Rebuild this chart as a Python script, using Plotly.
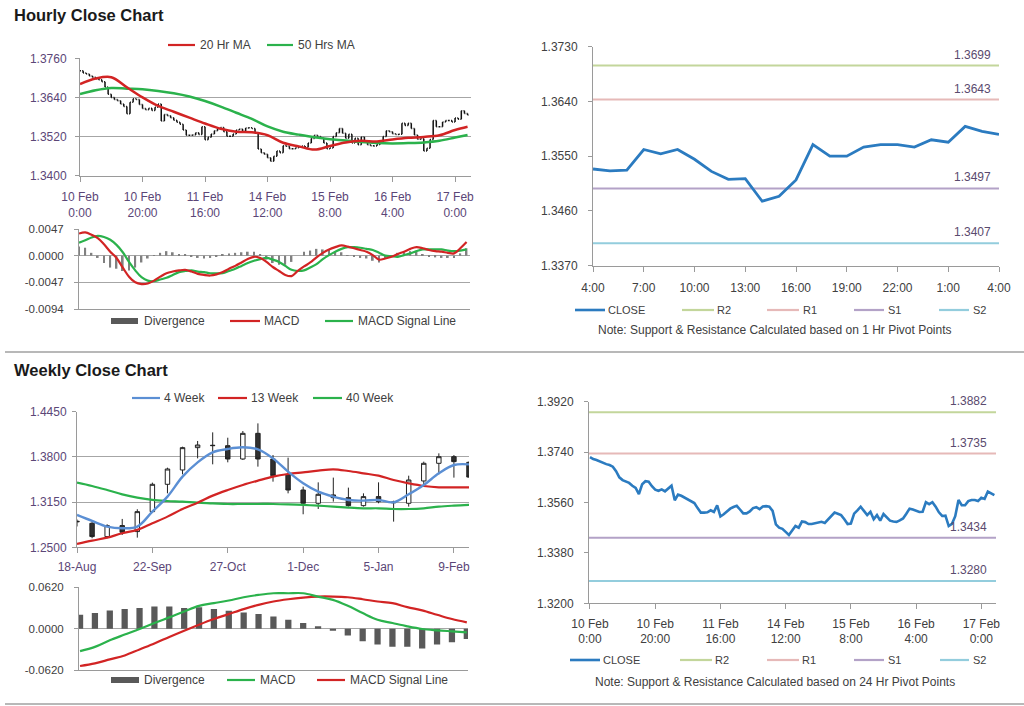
import plotly.graph_objects as go

W, H = 1024, 706

# ---------------- DATA ----------------
# Hourly closes, 10 Feb 0:00 .. 17 Feb 4:00 (trading hours)
hourly_close = [
    1.3722, 1.3715, 1.3712, 1.3706, 1.3702, 1.3697, 1.3694, 1.3688, 1.3672, 1.3650,
    1.3640, 1.3634, 1.3630, 1.3620, 1.3612, 1.3590, 1.3625, 1.3636, 1.3634, 1.3618,
    1.3606, 1.3602, 1.3607, 1.3600, 1.3610, 1.3620, 1.3568, 1.3588, 1.3584, 1.3578,
    1.3570, 1.3564, 1.3558, 1.3540, 1.3524, 1.3524, 1.3525, 1.3532, 1.3526, 1.3550,
    1.3510, 1.3518, 1.3528, 1.3538, 1.3544, 1.3548, 1.3535, 1.3521, 1.3521, 1.3528,
    1.3540, 1.3543, 1.3536, 1.3546, 1.3547, 1.3545, 1.3530, 1.3482, 1.3470, 1.3466,
    1.3455, 1.3444, 1.3460, 1.3476, 1.3470, 1.3492, 1.3490, 1.3483, 1.3483, 1.3486,
    1.3488, 1.3491, 1.3487, 1.3500, 1.3514, 1.3524, 1.3520, 1.3515, 1.3500, 1.3483,
    1.3485, 1.3520, 1.3532, 1.3545, 1.3530, 1.3515, 1.3527, 1.3500, 1.3515, 1.3495,
    1.3519, 1.3505, 1.3495, 1.3492, 1.3491, 1.3496, 1.3503, 1.3520, 1.3538, 1.3535,
    1.3529, 1.3526, 1.3527, 1.3561, 1.3554, 1.3561, 1.3545, 1.3525, 1.3512, 1.3513,
    1.3476, 1.3484, 1.3511, 1.3569, 1.3550, 1.3550, 1.3565, 1.3569, 1.3569, 1.3565,
    1.3577, 1.3573, 1.3599, 1.3591, 1.3586,
]
hour_tickpos = [0, 20, 40, 60, 80, 100, 120]
hour_ticktext = ["10 Feb<br>0:00", "10 Feb<br>20:00", "11 Feb<br>16:00", "14 Feb<br>12:00",
                 "15 Feb<br>8:00", "16 Feb<br>4:00", "17 Feb<br>0:00"]

ma_idx = [0, 5, 10, 15, 20, 25, 30, 35, 40, 45, 50, 55, 60, 65, 70, 75, 80, 85, 90, 95,
          100, 105, 110, 115, 120, 124]
ma20 = [1.3681, 1.3698, 1.3702, 1.3671, 1.3640, 1.3614, 1.3596, 1.3578, 1.3560, 1.3544,
        1.3535, 1.3533, 1.3524, 1.3501, 1.3490, 1.3480, 1.3491, 1.3502, 1.3507, 1.3505,
        1.3511, 1.3516, 1.3519, 1.3524, 1.3540, 1.3550]
ma50 = [1.3650, 1.3662, 1.3669, 1.3667, 1.3665, 1.3660, 1.3653, 1.3643, 1.3629, 1.3612,
        1.3593, 1.3574, 1.3551, 1.3535, 1.3526, 1.3518, 1.3512, 1.3508, 1.3503, 1.3500,
        1.3499, 1.3500, 1.3502, 1.3507, 1.3517, 1.3525]

macd_idx = [0, 2, 4, 6, 8, 10, 12, 14, 16, 18, 20, 22, 24, 26, 28, 30, 32, 34, 36, 38,
            40, 42, 44, 46, 48, 50, 52, 54, 56, 58, 60, 62, 64, 66, 68, 70, 72, 74, 76, 78,
            80, 82, 84, 86, 88, 90, 92, 94, 96, 98, 100, 102, 104, 106, 108, 110, 112, 114,
            116, 118, 120, 122, 124]
macd_h = [0.0039, 0.0041, 0.0037, 0.0031, 0.0020, 0.0007, -0.0004, -0.0021, -0.0037, -0.0047,
          -0.0050, -0.0049, -0.0044, -0.0037, -0.0031, -0.0028, -0.0026, -0.0025, -0.0028, -0.0032,
          -0.0034, -0.0035, -0.0033, -0.0029, -0.0023, -0.0018, -0.0012, -0.0006, -0.0002, -0.0004,
          -0.0011, -0.0020, -0.0027, -0.0034, -0.0036, -0.0027, -0.0019, -0.0012, -0.0003, 0.0005,
          0.0011, 0.0015, 0.0018, 0.0016, 0.0013, 0.0010, 0.0007, 0.0001, -0.0007, -0.0005,
          -0.0002, 0.0003, 0.0007, 0.0012, 0.0015, 0.0013, 0.0010, 0.0008, 0.0007, 0.0005,
          0.0004, 0.0013, 0.0024]
signal_h = [0.0023, 0.0027, 0.0032, 0.0035, 0.0033, 0.0028, 0.0019, 0.0006, -0.0011, -0.0026,
            -0.0038, -0.0044, -0.0045, -0.0042, -0.0039, -0.0034, -0.0029, -0.0027, -0.0026, -0.0028,
            -0.0029, -0.0031, -0.0031, -0.0031, -0.0027, -0.0023, -0.0018, -0.0013, -0.0009, -0.0006,
            -0.0004, -0.0007, -0.0011, -0.0018, -0.0025, -0.0027, -0.0026, -0.0021, -0.0015, -0.0006,
            0.0001, 0.0007, 0.0012, 0.0015, 0.0015, 0.0014, 0.0012, 0.0010, 0.0005, 0.0000,
            -0.0001, -0.0002, 0.0001, 0.0004, 0.0008, 0.0011, 0.0011, 0.0011, 0.0011, 0.0009,
            0.0008, 0.0009, 0.0011]
div_h = [0.0016, 0.0014, 0.0005, -0.0004, -0.0013, -0.0021, -0.0023, -0.0027, -0.0026, -0.0021,
         -0.0012, -0.0005, 0.0001, 0.0005, 0.0008, 0.0006, 0.0003, 0.0002, -0.0002, -0.0004,
         -0.0005, -0.0004, -0.0002, 0.0002, 0.0004, 0.0005, 0.0006, 0.0007, 0.0007, 0.0002,
         -0.0007, -0.0013, -0.0016, -0.0016, -0.0011, 0.0000, 0.0007, 0.0009, 0.0012, 0.0011,
         0.0010, 0.0008, 0.0006, 0.0001, -0.0002, -0.0004, -0.0005, -0.0009, -0.0012, -0.0005,
         -0.0001, 0.0005, 0.0006, 0.0008, 0.0007, 0.0002, -0.0001, -0.0003, -0.0004, -0.0004,
         -0.0004, 0.0004, 0.0013]

# Last 24 hours (1 Hr pivot panel)
last24_start = 100
last24_tickpos = [0, 3, 6, 9, 12, 15, 18, 21, 24]
last24_ticktext = ["4:00", "7:00", "10:00", "13:00", "16:00", "19:00", "22:00", "1:00", "4:00"]
pivot1h_names = ["R2", "R1", "S1", "S2"]
pivot1h_values = [1.3699, 1.3643, 1.3497, 1.3407]

# Weekly
weeks = ["18-Aug", "25-Aug", "1-Sep", "8-Sep", "15-Sep", "22-Sep", "29-Sep", "6-Oct", "13-Oct",
         "20-Oct", "27-Oct", "3-Nov", "10-Nov", "17-Nov", "24-Nov", "1-Dec", "8-Dec", "15-Dec",
         "22-Dec", "29-Dec", "5-Jan", "12-Jan", "19-Jan", "26-Jan", "2-Feb", "9-Feb", "16-Feb"]
week_ticks = ["18-Aug", "22-Sep", "27-Oct", "1-Dec", "5-Jan", "9-Feb"]
w_open = [1.2875, 1.2845, 1.2654, 1.2812, 1.2726, 1.3013, 1.3406, 1.3612, 1.3933, 1.3961,
          1.3961, 1.3770, 1.4139, 1.3770, 1.3549, 1.3324, 1.3133, 1.3253, 1.3214, 1.3099,
          1.3229, 1.3140, 1.3133, 1.3454, 1.3708, 1.3803, 1.3722]
w_high = [1.2900, 1.2869, 1.2831, 1.2908, 1.3047, 1.3430, 1.3645, 1.3947, 1.4029, 1.4153,
          1.4076, 1.4172, 1.4282, 1.3827, 1.3789, 1.3372, 1.3434, 1.3502, 1.3358, 1.3276,
          1.3434, 1.3170, 1.3530, 1.3732, 1.3851, 1.3827, 1.3735]
w_low = [1.2800, 1.2630, 1.2630, 1.2678, 1.2639, 1.3003, 1.3276, 1.3549, 1.3779, 1.3693,
         1.3722, 1.3756, 1.3660, 1.3444, 1.3276, 1.2975, 1.3051, 1.3157, 1.3085, 1.3085,
         1.3133, 1.2869, 1.3085, 1.3396, 1.3549, 1.3502, 1.3500]
w_close = [1.2868, 1.2654, 1.2812, 1.2716, 1.3013, 1.3406, 1.3626, 1.3933, 1.3971, 1.3966,
           1.3770, 1.4139, 1.3770, 1.3530, 1.3324, 1.3133, 1.3262, 1.3214, 1.3099, 1.3229,
           1.3157, 1.3150, 1.3468, 1.3708, 1.3803, 1.3732, 1.3510]
wma4 = [1.2965, 1.2879, 1.2798, 1.2774, 1.2798, 1.3013, 1.3229, 1.3516, 1.3722, 1.3866,
        1.3914, 1.3938, 1.3909, 1.3779, 1.3588, 1.3420, 1.3300, 1.3229, 1.3181, 1.3171,
        1.3181, 1.3147, 1.3262, 1.3396, 1.3564, 1.3684, 1.3693]
wma13 = [1.2548, 1.2596, 1.2639, 1.2702, 1.2750, 1.2845, 1.2941, 1.3051, 1.3142, 1.3243,
         1.3324, 1.3396, 1.3458, 1.3516, 1.3554, 1.3578, 1.3602, 1.3621, 1.3597, 1.3564,
         1.3530, 1.3468, 1.3420, 1.3382, 1.3363, 1.3363, 1.3363]
wma40 = [1.3430, 1.3382, 1.3324, 1.3262, 1.3214, 1.3181, 1.3166, 1.3157, 1.3142, 1.3133,
         1.3123, 1.3123, 1.3123, 1.3123, 1.3118, 1.3109, 1.3099, 1.3085, 1.3071, 1.3061,
         1.3061, 1.3051, 1.3051, 1.3061, 1.3085, 1.3099, 1.3109]
w_macd = [-0.0337, -0.0273, -0.0174, -0.0089, -0.0005, 0.0084, 0.0169, 0.0258, 0.0342, 0.0382,
          0.0422, 0.0471, 0.0506, 0.0531, 0.0531, 0.0531, 0.0481, 0.0432, 0.0342, 0.0233,
          0.0134, 0.0084, 0.0035, -0.0005, -0.0025, -0.0040, -0.0055]
w_signal = [-0.0560, -0.0521, -0.0461, -0.0402, -0.0312, -0.0223, -0.0124, -0.0030, 0.0060, 0.0144,
            0.0218, 0.0293, 0.0357, 0.0407, 0.0441, 0.0466, 0.0481, 0.0481, 0.0471, 0.0441,
            0.0407, 0.0382, 0.0322, 0.0273, 0.0208, 0.0144, 0.0094]
w_div = [0.0208, 0.0233, 0.0273, 0.0293, 0.0308, 0.0332, 0.0332, 0.0308, 0.0322, 0.0293,
         0.0268, 0.0243, 0.0218, 0.0184, 0.0134, 0.0084, 0.0035, -0.0030, -0.0104, -0.0188,
         -0.0238, -0.0273, -0.0273, -0.0298, -0.0238, -0.0203, -0.0154]

pivot24_names = ["R2", "R1", "S1", "S2"]
pivot24_values = [1.3882, 1.3735, 1.3434, 1.3280]

# ---------------- STYLE ----------------
FONT = "Liberation Sans, Arial, sans-serif"
PURPLE = "#5b4677"
DARK = "#404040"
GRID = "#a6a6a6"
AXIS = "#9a9a9a"
RED = "#d22424"
GREEN = "#2bb24c"
BLUE_W = "#5b8fd4"
CLOSE_BLUE = "#2b7bc0"
PIV_COL = {"R2": "#c3d69b", "R1": "#e6b9b8", "S1": "#b3a2c7", "S2": "#93cddd"}


def fx(p):
    return p / W


def fy(p):
    return 1 - p / H


def dom_x(a, b):
    return [fx(a), fx(b)]


def dom_y(top, bot):
    return [fy(bot), fy(top)]


fig = go.Figure()

# Panel 1: hourly OHLC + MAs
hx = list(range(len(hourly_close)))
hourly_open = [hourly_close[0]] + hourly_close[:-1]
hourly_high = [max(o, c) for o, c in zip(hourly_open, hourly_close)]
hourly_low = [min(o, c) for o, c in zip(hourly_open, hourly_close)]
fig.add_trace(go.Ohlc(x=hx, open=hourly_open, high=hourly_high, low=hourly_low, close=hourly_close,
                      increasing=dict(line=dict(color="#111111", width=1.5)),
                      decreasing=dict(line=dict(color="#111111", width=1.5)),
                      tickwidth=0.3, xaxis="x", yaxis="y", showlegend=False, hoverinfo="skip"))
fig.add_trace(go.Scatter(x=ma_idx, y=ma50, mode="lines", line=dict(color=GREEN, width=2.5, shape="spline"),
                         xaxis="x", yaxis="y", showlegend=False))
fig.add_trace(go.Scatter(x=ma_idx, y=ma20, mode="lines", line=dict(color=RED, width=2.5, shape="spline"),
                         xaxis="x", yaxis="y", showlegend=False))

# Panel 2: hourly MACD
fig.add_trace(go.Bar(x=macd_idx, y=div_h, width=0.55, marker=dict(color="#808080", line=dict(width=0)),
                     xaxis="x2", yaxis="y2", showlegend=False))
fig.add_trace(go.Scatter(x=macd_idx, y=signal_h, mode="lines", line=dict(color=GREEN, width=2.2, shape="spline"),
                         xaxis="x2", yaxis="y2", showlegend=False))
fig.add_trace(go.Scatter(x=macd_idx, y=macd_h, mode="lines", line=dict(color=RED, width=2.2, shape="spline"),
                         xaxis="x2", yaxis="y2", showlegend=False))

# Panel 3: last 24 hours with 1 Hr pivots
l24 = hourly_close[last24_start:]
fig.add_trace(go.Scatter(x=list(range(len(l24))), y=l24, mode="lines", line=dict(color=CLOSE_BLUE, width=2.8),
                         xaxis="x3", yaxis="y3", showlegend=False))

# Panel 4: weekly candles + MAs
fig.add_trace(go.Candlestick(x=weeks, open=w_open, high=w_high, low=w_low, close=w_close,
                             increasing=dict(line=dict(color="#222222", width=1), fillcolor="#ffffff"),
                             decreasing=dict(line=dict(color="#222222", width=1), fillcolor="#303030"),
                             whiskerwidth=0, xaxis="x4", yaxis="y4", showlegend=False, hoverinfo="skip"))
fig.add_trace(go.Scatter(x=weeks, y=wma40, mode="lines", line=dict(color=GREEN, width=2.2, shape="spline"),
                         xaxis="x4", yaxis="y4", showlegend=False))
fig.add_trace(go.Scatter(x=weeks, y=wma13, mode="lines", line=dict(color=RED, width=2.2, shape="spline"),
                         xaxis="x4", yaxis="y4", showlegend=False))
fig.add_trace(go.Scatter(x=weeks, y=wma4, mode="lines", line=dict(color=BLUE_W, width=2.4, shape="spline"),
                         xaxis="x4", yaxis="y4", showlegend=False))

# Panel 5: weekly MACD
fig.add_trace(go.Bar(x=weeks, y=w_div, width=0.42, marker=dict(color="#595959", line=dict(width=0)),
                     xaxis="x5", yaxis="y5", showlegend=False))
fig.add_trace(go.Scatter(x=weeks, y=w_signal, mode="lines", line=dict(color=RED, width=2.2, shape="spline"),
                         xaxis="x5", yaxis="y5", showlegend=False))
fig.add_trace(go.Scatter(x=weeks, y=w_macd, mode="lines", line=dict(color=GREEN, width=2.2, shape="spline"),
                         xaxis="x5", yaxis="y5", showlegend=False))

# Panel 6: hourly close with 24 Hr pivots
fig.add_trace(go.Scatter(x=hx, y=hourly_close, mode="lines", line=dict(color=CLOSE_BLUE, width=2.6),
                         xaxis="x6", yaxis="y6", showlegend=False))

shapes = []
annotations = []

# pivot lines + labels
for xr, yr, names, vals, lx in (("x3", "y3", pivot1h_names, pivot1h_values, 0.985),
                                ("x6", "y6", pivot24_names, pivot24_values, 0.983)):
    for n, v in zip(names, vals):
        shapes.append(dict(type="line", xref=xr + " domain", yref=yr, x0=0, x1=1, y0=v, y1=v,
                           line=dict(color=PIV_COL[n], width=2), layer="below"))
        annotations.append(dict(xref=xr + " domain", yref=yr, x=lx, y=v, text="%.4f" % v,
                                xanchor="right", yanchor="bottom", yshift=2, showarrow=False,
                                font=dict(size=12, color="#5a4a6e")))


def leg_line(x0, x1, y, color, text, tx, width=2.2, size=12):
    shapes.append(dict(type="line", xref="paper", yref="paper", x0=fx(x0), x1=fx(x1), y0=fy(y), y1=fy(y),
                       line=dict(color=color, width=width)))
    annotations.append(dict(xref="paper", yref="paper", x=fx(tx), y=fy(y), text=text, xanchor="left",
                            yanchor="middle", showarrow=False, font=dict(size=size, color=DARK)))


def leg_bar(x0, x1, y, text, tx, color="#595959"):
    shapes.append(dict(type="rect", xref="paper", yref="paper", x0=fx(x0), x1=fx(x1), y0=fy(y + 3),
                       y1=fy(y - 3), fillcolor=color, line=dict(width=0)))
    annotations.append(dict(xref="paper", yref="paper", x=fx(tx), y=fy(y), text=text, xanchor="left",
                            yanchor="middle", showarrow=False, font=dict(size=12, color=DARK)))


# legends
leg_line(168, 195, 45, RED, "20 Hr MA", 198)
leg_line(267, 293, 45, GREEN, "50 Hrs MA", 296)

leg_bar(111, 138, 321, "Divergence", 142)
leg_line(230, 260, 321, RED, "MACD", 262)
leg_line(325, 353, 321, GREEN, "MACD Signal Line", 356)

leg_line(575, 605, 310, CLOSE_BLUE, "CLOSE", 606, width=2.6, size=11)
leg_line(682, 714, 310, PIV_COL["R2"], "R2", 715, size=11)
leg_line(767, 799, 310, PIV_COL["R1"], "R1", 801, size=11)
leg_line(854, 884, 310, PIV_COL["S1"], "S1", 886, size=11)
leg_line(939, 969, 310, PIV_COL["S2"], "S2", 971, size=11)

leg_line(132, 160, 398, BLUE_W, "4 Week", 162)
leg_line(218, 247, 398, RED, "13 Week", 249)
leg_line(313, 342, 398, GREEN, "40 Week", 344)

leg_bar(111, 139, 680, "Divergence", 142)
leg_line(227, 255, 680, GREEN, "MACD", 258)
leg_line(317, 345, 680, RED, "MACD Signal Line", 348)

leg_line(570, 600, 660, CLOSE_BLUE, "CLOSE", 601, width=2.6, size=11)
leg_line(680, 712, 660, PIV_COL["R2"], "R2", 713, size=11)
leg_line(767, 799, 660, PIV_COL["R1"], "R1", 800, size=11)
leg_line(854, 884, 660, PIV_COL["S1"], "S1", 886, size=11)
leg_line(940, 969, 660, PIV_COL["S2"], "S2", 971, size=11)

# notes
annotations.append(dict(xref="paper", yref="paper", x=fx(775), y=fy(330), showarrow=False,
                        text="Note: Support & Resistance Calculated based on 1 Hr Pivot Points",
                        xanchor="center", yanchor="middle", font=dict(size=12, color=DARK)))
annotations.append(dict(xref="paper", yref="paper", x=fx(775), y=fy(682), showarrow=False,
                        text="Note: Support & Resistance Calculated based on 24 Hr Pivot Points",
                        xanchor="center", yanchor="middle", font=dict(size=12, color=DARK)))

# titles
annotations.append(dict(xref="paper", yref="paper", x=fx(12), y=fy(15), showarrow=False,
                        text="<b>Hourly Close Chart</b>", xanchor="left", yanchor="middle",
                        font=dict(size=16.5, color="#1a1a1a")))
annotations.append(dict(xref="paper", yref="paper", x=fx(12), y=fy(370), showarrow=False,
                        text="<b>Weekly Close Chart</b>", xanchor="left", yanchor="middle",
                        font=dict(size=16.5, color="#1a1a1a")))

# separators
shapes.append(dict(type="line", xref="paper", yref="paper", x0=fx(5), x1=1, y0=fy(352), y1=fy(352),
                   line=dict(color="#a0a0a0", width=1.5)))
shapes.append(dict(type="line", xref="paper", yref="paper", x0=fx(5), x1=1, y0=fy(704), y1=fy(704),
                   line=dict(color="#a0a0a0", width=1.5)))

common_x = dict(showline=True, linecolor=AXIS, linewidth=1, zeroline=False, showgrid=False,
                ticks="outside", ticklen=5, tickcolor=AXIS, automargin=False)
common_y = dict(showline=True, linecolor=AXIS, linewidth=1, zeroline=False, ticks="outside",
                ticklen=4, tickcolor=AXIS, gridcolor=GRID, gridwidth=1, automargin=False)

fig.update_layout(
    width=W, height=H, autosize=False,
    margin=dict(l=0, r=0, t=0, b=0, pad=0, autoexpand=False),
    paper_bgcolor="white", plot_bgcolor="white",
    font=dict(family=FONT, size=12, color=DARK),
    hovermode=False, showlegend=False, boxgap=0.58,
    shapes=shapes, annotations=annotations,
    xaxis=dict(common_x, domain=dom_x(80, 471), anchor="y", range=[0, 125.1],
               tickvals=hour_tickpos, ticktext=hour_ticktext, tickfont=dict(size=12, color=PURPLE),
               rangeslider=dict(visible=False), ticklabelstandoff=5),
    yaxis=dict(common_y, domain=dom_y(58.3, 175.7), anchor="x", range=[1.34, 1.376],
               tickvals=[1.34, 1.352, 1.364, 1.376], tickformat=".4f", showgrid=True,
               tickfont=dict(size=12, color=PURPLE), ticklabelstandoff=6),
    xaxis2=dict(common_x, domain=dom_x(79, 470), anchor="y2", range=[0, 125.1],
                showticklabels=False, ticks=""),
    yaxis2=dict(common_y, domain=dom_y(229, 309), anchor="x2", range=[-0.0094, 0.0047],
                tickvals=[-0.0094, -0.0047, 0, 0.0047], ticktext=["-0.0094", "-0.0047", "0.0000", "0.0047"],
                showgrid=True, tickfont=dict(size=11.5, color=DARK), ticklabelstandoff=8),
    xaxis3=dict(common_x, domain=dom_x(593, 999), anchor="y3", range=[0, 24],
                tickvals=last24_tickpos, ticktext=last24_ticktext, tickfont=dict(size=12, color=DARK),
                ticklabelstandoff=6),
    yaxis3=dict(common_y, domain=dom_y(46.7, 265.7), anchor="x3", range=[1.337, 1.373],
                tickvals=[1.337, 1.346, 1.355, 1.364, 1.373], tickformat=".4f", showgrid=False,
                tickfont=dict(size=12, color=DARK), ticklabelstandoff=8),
    xaxis4=dict(common_x, domain=dom_x(77, 469), anchor="y4", type="category", range=[0, 26],
                tickvals=week_ticks, ticktext=week_ticks, tickfont=dict(size=12, color=PURPLE),
                rangeslider=dict(visible=False), ticklabelstandoff=3),
    yaxis4=dict(common_y, domain=dom_y(411.7, 547.3), anchor="x4", range=[1.25, 1.445],
                tickvals=[1.25, 1.315, 1.38, 1.445], tickformat=".4f", showgrid=True,
                tickfont=dict(size=12, color=PURPLE), ticklabelstandoff=3),
    xaxis5=dict(common_x, domain=dom_x(79, 468), anchor="y5", type="category", range=[-0.07, 26.08],
                showticklabels=False, ticks=""),
    yaxis5=dict(common_y, domain=dom_y(587.3, 670), anchor="x5", range=[-0.062, 0.062],
                tickvals=[-0.062, 0, 0.062], ticktext=["-0.0620", "0.0000", "0.0620"], showgrid=True,
                tickfont=dict(size=11.5, color=DARK), ticklabelstandoff=8),
    xaxis6=dict(common_x, domain=dom_x(589, 996), anchor="y6", range=[-0.3, 124.5],
                tickvals=hour_tickpos, ticktext=hour_ticktext, tickfont=dict(size=12, color=DARK),
                ticklabelstandoff=4),
    yaxis6=dict(common_y, domain=dom_y(401.7, 603.3), anchor="x6", range=[1.32, 1.392],
                tickvals=[1.32, 1.338, 1.356, 1.374, 1.392], tickformat=".4f", showgrid=False,
                tickfont=dict(size=12, color=DARK), ticklabelstandoff=8),
)

fig.write_html("out.html", config={"displayModeBar": False, "responsive": False},
               post_script="document.body.style.margin='0px';")
